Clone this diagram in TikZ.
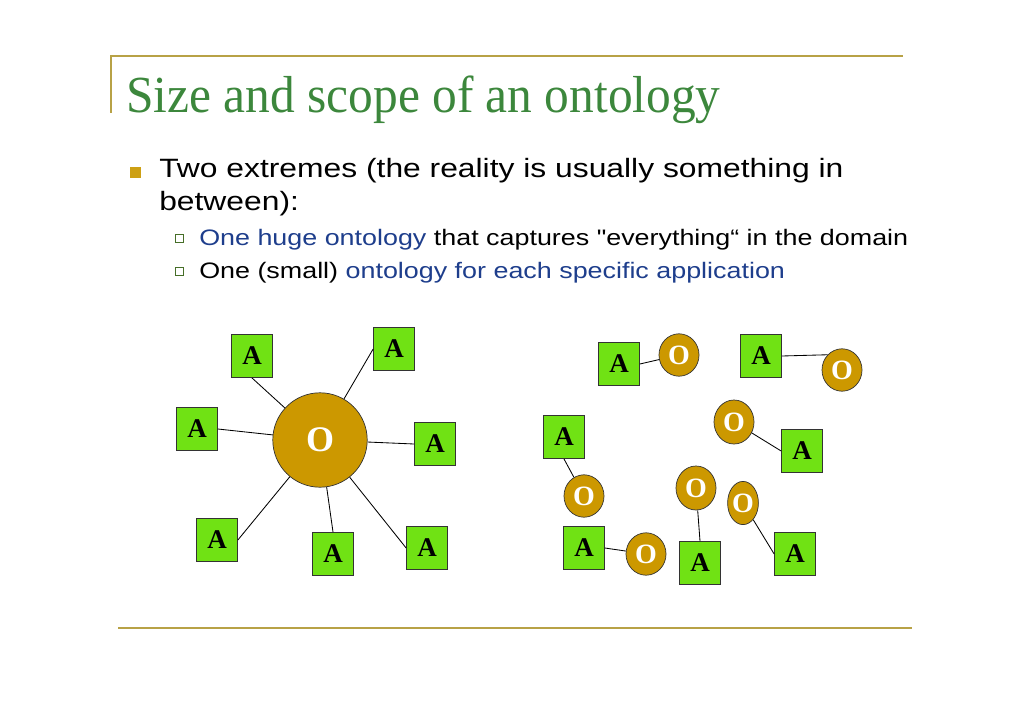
\documentclass[tikz,border=0pt]{standalone}
\usepackage{fontspec}
\usepackage{xcolor}
\usetikzlibrary{shapes.geometric}
\newfontfamily\titlefont[FakeStretch=0.95]{Liberation Serif}
\newfontfamily\bodyfont[FakeStretch=1.2]{Liberation Sans}
\newfontfamily\boxfont{Liberation Serif}
\definecolor{rulegold}{RGB}{184,162,70}
\definecolor{bulletgold}{RGB}{205,160,20}
\definecolor{titlegreen}{RGB}{60,135,60}
\definecolor{ontoblue}{RGB}{30,62,140}
\definecolor{appgreen}{RGB}{112,226,20}
\definecolor{ontogold}{RGB}{204,152,0}
\definecolor{subgreen}{RGB}{70,110,40}

\begin{document}
\begin{tikzpicture}[x=0.025cm,y=-0.025cm,
    every node/.style={black},
    abox/.style={draw=black!80,line width=0.5pt,fill=appgreen,inner sep=0pt,
        minimum width=1.025cm,minimum height=1.08cm,
        font=\boxfont\bfseries\fontsize{19.2}{20}\selectfont},
    obig/.style={circle,draw=black!80,line width=0.5pt,fill=ontogold,text=white,
        inner sep=0pt,minimum size=2.36cm,
        font=\boxfont\bfseries\fontsize{25.6}{27}\selectfont},
    osmall/.style={ellipse,draw=black!80,line width=0.5pt,fill=ontogold,text=white,
        inner sep=0pt,minimum width=1cm,minimum height=1.06cm,
        font=\boxfont\bfseries\fontsize{19.9}{21}\selectfont},
    link/.style={black,line width=0.6pt},
    line1/.style={anchor=base west,inner sep=0pt,font=\bodyfont\fontsize{18.85}{22}\selectfont},
    line2/.style={anchor=base west,inner sep=0pt,font=\bodyfont\fontsize{15.93}{19}\selectfont}]
    \useasboundingbox (0,0) rectangle (1030,728);

    % slide frame
    \draw[rulegold,line width=1.4pt] (111,113) -- (111,56) -- (903,56);
    \draw[rulegold,line width=1.4pt] (118,628) -- (912,628);

    \node[anchor=base west,inner sep=0pt,text=titlegreen,
        font=\titlefont\fontsize{37}{44}\selectfont] (title) at (126,113)
        {Size and scope of an ontology};

    \node[fill=bulletgold,minimum size=0.275cm,inner sep=0pt] (b1) at (135.5,172.5) {};
    \node[line1] (t1) at (159,178) {Two extremes (the reality is usually something in};
    \node[line1] (t2) at (159,210) {between):};

    \node[draw=subgreen,fill=white,line width=0.7pt,minimum size=0.2cm,inner sep=0pt] (s1) at (179,238) {};
    \node[draw=subgreen,fill=white,line width=0.7pt,minimum size=0.2cm,inner sep=0pt] (s2) at (179,271.5) {};
    \node[line2] (u1) at (199,245.5) {\textcolor{ontoblue}{One huge ontology} that captures "everything“ in the domain};
    \node[line2] (u2) at (199,278) {One (small) \textcolor{ontoblue}{ontology for each specific application}};

    % one huge ontology
    \node[obig] (o) at (320,440) {O};
    \node[abox] (a1) at (252,356) {A};
    \node[abox] (a2) at (394,349) {A};
    \node[abox] (a3) at (197,429) {A};
    \node[abox] (a4) at (435,444) {A};
    \node[abox] (a5) at (217,540) {A};
    \node[abox] (a6) at (333,554) {A};
    \node[abox] (a7) at (427,548) {A};
    \foreach \n/\s in {a1/south,a2/west,a3/east,a4/west,a5/east,a6/north,a7/west}
        \draw[link] (\n.\s) -- (o);

    % one small ontology per application
    \node[abox] (r1) at (619,364) {A};
    \node[osmall] (c1) at (679,355) {O};
    \node[abox] (r2) at (761,356) {A};
    \node[osmall] (c2) at (842,370) {O};
    \node[abox] (r3) at (564,437) {A};
    \node[osmall] (c4) at (584,496) {O};
    \node[osmall,minimum height=1.1cm] (c3) at (734,422) {O};
    \node[abox] (r4) at (802,451) {A};
    \node[abox] (r5) at (584,548) {A};
    \node[osmall] (c7) at (646,554) {O};
    \node[osmall,minimum height=1.1cm] (c5) at (696,488) {O};
    \node[abox] (r6) at (700,563) {A};
    \node[osmall,minimum width=0.75cm,minimum height=1.08cm] (c6) at (743,503) {O};
    \node[abox] (r7) at (795,554) {A};

    \draw[link] (r1.east) -- (c1);
    \draw[link] (r2.east) -- (c2.north west);
    \draw[link] (r3.south) -- (c4);
    \draw[link] (c3) -- (r4.west);
    \draw[link] (r5.east) -- (c7);
    \draw[link] (c5) -- (r6.north);
    \draw[link] (c6) -- (r7.west);
\end{tikzpicture}
\end{document}
